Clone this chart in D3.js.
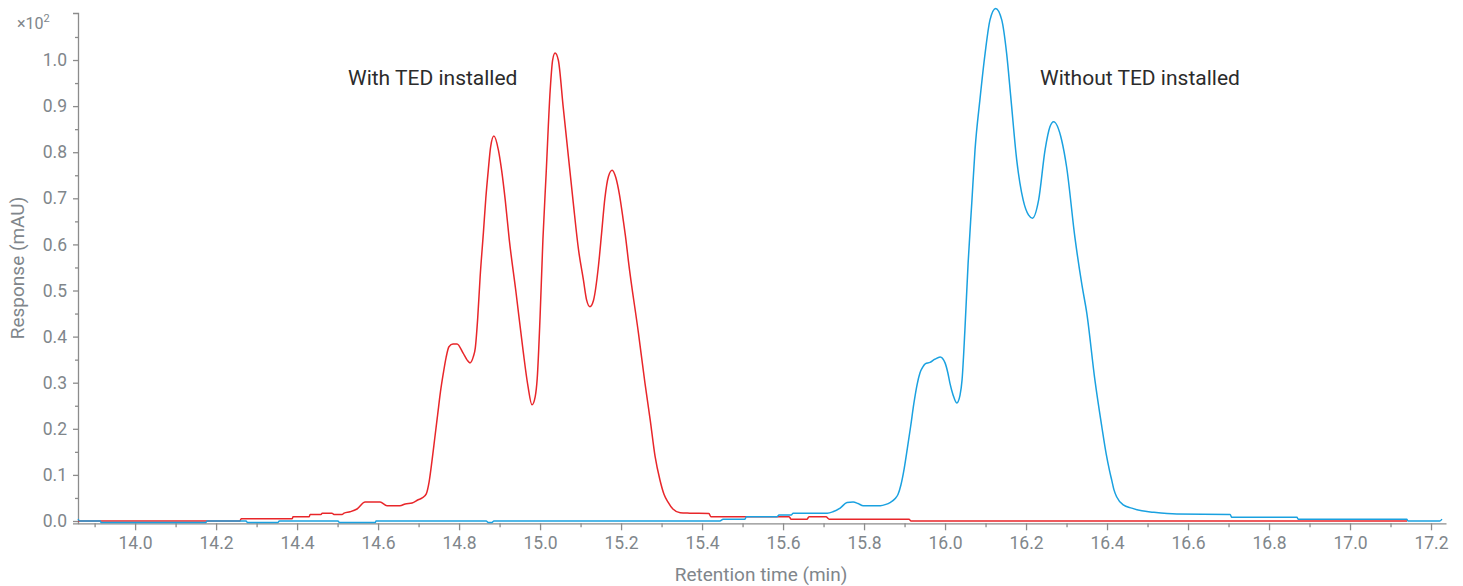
<!DOCTYPE html>
<html><head><meta charset="utf-8">
<script src="https://cdn.jsdelivr.net/npm/d3@7"></script>
<style>
body{margin:0;background:#fff}
svg{display:block}
text{font-family:Roboto, "Noto Sans", sans-serif}
</style>
</head><body>
<svg id="chart" width="1463" height="586"></svg>
<script>
// ---- data (retention time in min, response in x10^2 mAU) ----
const redTimes = [13.859,14.259,14.262,14.388,14.390,14.430,14.432,14.459,14.462,14.486,14.491,14.511,14.516,14.531,14.548,14.568,14.605,14.622,14.654,14.667,14.684,14.699,14.709,14.719,14.726,14.733,14.740,14.747,14.754,14.761,14.768,14.775,14.785,14.795,14.810,14.820,14.827,14.835,14.840,14.846,14.852,14.860,14.866,14.872,14.878,14.886,14.897,14.905,14.914,14.924,14.940,14.958,14.970,14.980,14.988,14.993,15.000,15.007,15.015,15.025,15.031,15.037,15.045,15.057,15.070,15.082,15.095,15.107,15.115,15.123,15.132,15.144,15.152,15.160,15.169,15.178,15.187,15.196,15.205,15.212,15.218,15.243,15.259,15.272,15.284,15.296,15.306,15.316,15.328,15.346,15.370,15.417,15.422,15.615,15.620,15.659,15.664,15.706,15.714,15.911,15.916,17.141];
const redValues = [0.000,0.000,0.005,0.005,0.009,0.009,0.014,0.014,0.017,0.017,0.014,0.014,0.017,0.020,0.026,0.041,0.041,0.033,0.033,0.037,0.039,0.046,0.050,0.059,0.085,0.130,0.180,0.230,0.280,0.320,0.355,0.378,0.384,0.384,0.364,0.349,0.343,0.356,0.375,0.440,0.530,0.625,0.700,0.760,0.812,0.835,0.805,0.761,0.696,0.610,0.500,0.370,0.293,0.252,0.270,0.310,0.443,0.610,0.754,0.935,1.000,1.015,1.000,0.899,0.790,0.690,0.588,0.523,0.479,0.465,0.479,0.552,0.625,0.700,0.748,0.761,0.745,0.708,0.655,0.610,0.565,0.407,0.299,0.219,0.140,0.089,0.058,0.041,0.026,0.018,0.017,0.016,0.009,0.009,0.004,0.004,0.009,0.009,0.004,0.004,0.000,0.000];

const blueTimes = [13.859,13.864,13.914,13.916,14.175,14.178,14.274,14.277,14.353,14.356,14.501,14.504,14.593,14.595,14.867,14.872,14.881,14.886,15.444,15.452,15.506,15.509,15.585,15.590,15.620,15.625,15.709,15.723,15.741,15.758,15.773,15.785,15.798,15.840,15.854,15.864,15.877,15.884,15.891,15.899,15.907,15.915,15.923,15.931,15.938,15.945,15.951,15.963,15.975,15.988,16.000,16.007,16.012,16.020,16.029,16.037,16.042,16.049,16.057,16.066,16.074,16.086,16.099,16.111,16.125,16.140,16.152,16.163,16.177,16.193,16.206,16.216,16.231,16.247,16.259,16.268,16.288,16.300,16.321,16.338,16.350,16.370,16.387,16.398,16.406,16.412,16.417,16.424,16.440,16.461,16.486,16.514,16.572,16.704,16.708,16.869,16.872,17.140,17.143,17.222,17.227];
const blueValues = [0.004,0.000,0.000,-0.003,-0.003,0.000,0.000,-0.003,-0.003,0.000,0.000,-0.003,-0.003,0.000,0.000,-0.003,-0.003,0.000,0.000,0.004,0.004,0.009,0.009,0.013,0.013,0.017,0.017,0.020,0.028,0.040,0.041,0.038,0.033,0.033,0.036,0.040,0.049,0.058,0.078,0.113,0.158,0.205,0.255,0.296,0.321,0.334,0.341,0.344,0.351,0.356,0.343,0.321,0.299,0.273,0.256,0.273,0.306,0.414,0.560,0.690,0.805,0.913,1.015,1.087,1.112,1.087,1.015,0.913,0.783,0.696,0.664,0.657,0.696,0.805,0.855,0.866,0.826,0.769,0.613,0.512,0.451,0.306,0.205,0.145,0.110,0.087,0.068,0.052,0.035,0.028,0.022,0.019,0.015,0.014,0.008,0.008,0.004,0.004,0.000,0.000,0.004];

const xTickValues = [14.0,14.2,14.4,14.6,14.8,15.0,15.2,15.4,15.6,15.8,16.0,16.2,16.4,16.6,16.8,17.0,17.2];
const xTickLabels = ["14.0","14.2","14.4","14.6","14.8","15.0","15.2","15.4","15.6","15.8","16.0","16.2","16.4","16.6","16.8","17.0","17.2"];
const xMinorTicks = [13.9,14.1,14.3,14.5,14.7,14.9,15.1,15.3,15.5,15.7,15.9,16.1,16.3,16.5,16.7,16.9,17.1];
const yTickValues = [0.0,0.1,0.2,0.3,0.4,0.5,0.6,0.7,0.8,0.9,1.0];
const yTickLabels = ["0.0","0.1","0.2","0.3","0.4","0.5","0.6","0.7","0.8","0.9","1.0"];
const yMinorTicks = [0.05,0.15,0.25,0.35,0.45,0.55,0.65,0.75,0.85,0.95,1.05];

const seriesNames = ["With TED installed","Without TED installed"];
const seriesColors = ["#e8262a","#1aa1e0"];

// ---- layout ----
const svg = d3.select("#chart");
const axisColor = "#8c8c8c", textColor = "#80868b";
const x = d3.scaleLinear().domain([13.859, 17.237]).range([78, 1446]);
const y = d3.scaleLinear().domain([-0.005, 1.102]).range([523.3, 13]);

// axes
const xAxis = d3.axisBottom(x).tickValues(xTickValues).tickFormat((d,i)=>xTickLabels[i]).tickSize(7).tickSizeOuter(0).tickPadding(6);
const xMinor = d3.axisBottom(x).tickValues(xMinorTicks).tickFormat("").tickSize(4).tickSizeOuter(0);
const yAxis = d3.axisLeft(y).tickValues(yTickValues).tickFormat((d,i)=>yTickLabels[i]).tickSize(5).tickSizeOuter(5).tickPadding(6);
const yMinor = d3.axisLeft(y).tickValues(yMinorTicks).tickFormat("").tickSize(3).tickSizeOuter(0);

function style(g){
  g.selectAll("path,line").attr("stroke", axisColor).attr("stroke-width", 1.3);
  g.selectAll("text").attr("fill", textColor).style("font-size","17.5px").style("font-family","Roboto");
}
const gxm = svg.append("g").attr("transform",`translate(0,${y.range()[0]})`).call(xMinor); style(gxm); gxm.select(".domain").remove();
const gx = svg.append("g").attr("transform",`translate(0,${y.range()[0]})`).call(xAxis); style(gx);
const gym = svg.append("g").attr("transform",`translate(${x.range()[0]},0)`).call(yMinor); style(gym); gym.select(".domain").remove();
const gy = svg.append("g").attr("transform",`translate(${x.range()[0]},0)`).call(yAxis); style(gy);

// lines
const line = d3.line().x(d=>x(d[0])).y(d=>y(d[1])).curve(d3.curveMonotoneX);
const redData = redTimes.map((t,i)=>[t, redValues[i]]);
const blueData = blueTimes.map((t,i)=>[t, blueValues[i]]);
svg.append("path").datum(redData).attr("d", line).attr("fill","none").attr("stroke", seriesColors[0]).attr("stroke-width",1.5);
svg.append("path").datum(blueData).attr("d", line).attr("fill","none").attr("stroke", seriesColors[1]).attr("stroke-width",1.5);

// annotations
svg.append("text").attr("x", 348).attr("y", 85).text(seriesNames[0])
  .attr("fill","#2b2b2b").style("font-size","21px").style("font-family","Roboto");
svg.append("text").attr("x", 1040).attr("y", 85).text(seriesNames[1])
  .attr("fill","#2b2b2b").style("font-size","21px").style("font-family","Roboto");

// axis titles
svg.append("text").attr("x", 761).attr("y", 581).attr("text-anchor","middle")
  .attr("fill", textColor).style("font-size","19px").text("Retention time (min)");
svg.append("text").attr("transform",`translate(24,${268}) rotate(-90)`).attr("text-anchor","middle")
  .attr("fill", textColor).style("font-size","19px").text("Response (mAU)");
const mult = svg.append("text").attr("x", 17).attr("y", 29).attr("fill", textColor).style("font-size","16px");
mult.append("tspan").text("×10");
mult.append("tspan").attr("dy",-7).style("font-size","11px").text("2");
</script>
</body></html>
